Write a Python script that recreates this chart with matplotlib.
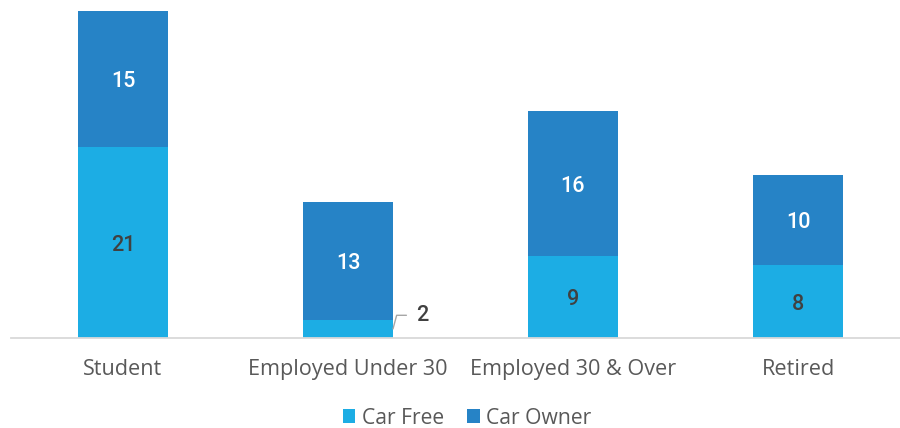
import matplotlib
matplotlib.use("Agg")
import matplotlib.pyplot as plt
import numpy as np

categories = ["Student", "Employed Under 30", "Employed 30 & Over", "Retired"]
car_free = [21, 2, 9, 8]
car_owner = [15, 13, 16, 10]

C_FREE = "#1CADE4"
C_OWN = "#2683C6"

W, H = 900, 428
fig = plt.figure(figsize=(W / 100, H / 100), dpi=100)
ax = fig.add_axes([10.5 / W, 90 / H, 900 / W, 327 / H])

x = np.arange(len(categories))
bw = 0.4
b1 = ax.bar(x, car_free, bw, color=C_FREE, label="Car Free", linewidth=0, zorder=2)
b2 = ax.bar(x, car_owner, bw, bottom=car_free, color=C_OWN, label="Car Owner", linewidth=0, zorder=2)

ax.set_xlim(-0.5, len(categories) - 0.5)
ax.set_ylim(0, 36)
for s in ["top", "right", "left"]:
    ax.spines[s].set_visible(False)
ax.spines["bottom"].set_color("#D9D9D9")
ax.spines["bottom"].set_linewidth(1.3)
ax.set_yticks([])
ax.set_xticks(x)
ax.set_xticklabels(categories, fontsize=15.6, color="#595959", family="Open Sans")
ax.tick_params(axis="x", length=0, pad=15)

dy = -0.3
lab_font = dict(fontsize=15.5, family="Roboto", fontweight="medium", ha="center", va="center")
for i in range(len(categories)):
    f, o = car_free[i], car_owner[i]
    if f >= 5:
        ax.text(x[i], f / 2 + dy, str(f), color="#404040", **lab_font)
    else:
        x0 = x[i] + bw / 2
        ax.annotate(str(f), xy=(x0, f / 2), xytext=(x0 + 0.13, f / 2 + 1.5),
                    color="#404040", fontsize=15.5, family="Roboto", fontweight="medium",
                    ha="center", va="center",
                    arrowprops=dict(arrowstyle="-", color="#A6A6A6", lw=1.0,
                                    shrinkA=5, shrinkB=0,
                                    connectionstyle="angle,angleA=0,angleB=75,rad=0"))
    ax.text(x[i], f + o / 2 + dy, str(o), color="white", **lab_font)

leg = fig.legend(handles=[b1, b2], loc="center", bbox_to_anchor=(467 / W, 1 - 418 / H),
                 ncol=2, frameon=False, fontsize=15.2, handlelength=0.6, handleheight=0.6,
                 handletextpad=0.3, columnspacing=1.1, borderaxespad=0)
for t in leg.get_texts():
    t.set_color("#595959")
    t.set_family("Open Sans")

fig.savefig("out.png", dpi=100)
